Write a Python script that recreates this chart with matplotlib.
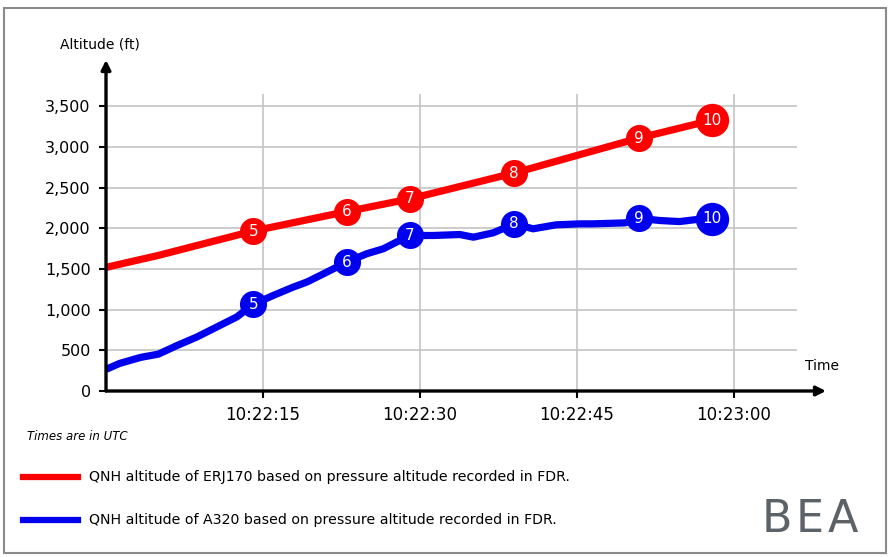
import matplotlib
matplotlib.use("Agg")
import matplotlib.pyplot as plt
from matplotlib.lines import Line2D
from matplotlib.patches import Rectangle

# time in seconds after 10:22:00 UTC, altitude in ft
red_t = [0, 5, 14.07, 23, 29, 39, 50.9, 57.9]
red_alt = [1520, 1667, 1967, 2206, 2361, 2680, 3109, 3330]

blue_t = [0, 1.3, 3.3, 5.0, 6.8, 8.7, 10.6, 12.5, 14.07, 16.0, 17.9, 19.2, 20.8, 23.0,
          24.9, 26.5, 29.0, 31.3, 33.8, 35.1, 37.0, 39.0, 40.8, 43.0, 45.3, 46.5,
          49.6, 50.9, 52.9, 54.8, 56.4, 57.9]
blue_alt = [266, 339, 413, 453, 560, 665, 788, 911, 1066, 1176, 1278, 1340, 1442, 1585,
            1687, 1749, 1912, 1912, 1924, 1891, 1945, 2055, 1994, 2043, 2055, 2055,
            2067, 2124, 2096, 2083, 2108, 2116]

pt_labels = ['5', '6', '7', '8', '9', '10']
pt_t = [14.07, 23, 29, 39, 50.9, 57.9]
red_pt_alt = [1967, 2206, 2361, 2680, 3109, 3330]
blue_pt_alt = [1066, 1585, 1912, 2055, 2124, 2116]

yticks = [0, 500, 1000, 1500, 2000, 2500, 3000, 3500]
xticks = [15, 30, 45, 60]
xtick_labels = ['10:22:15', '10:22:30', '10:22:45', '10:23:00']

RED = '#ff0000'
BLUE = '#0000ee'
LOGO = '#5b6268'

W, H = 891, 557
fig = plt.figure(figsize=(W / 100, H / 100), dpi=100)
ax = fig.add_axes([106 / W, (H - 391) / H, 720 / W, 331 / H])
ax.set_xlim(0, 720 / 10.467)
ax.set_ylim(0, 331 / 0.08134)

# grid
ax.hlines(yticks[1:], 0, 66, color='#c4c4c4', lw=1.2, zorder=1)
ax.vlines(xticks, 0, 3656, color='#c4c4c4', lw=1.2, zorder=1)

# lines
ax.plot(red_t, red_alt, color=RED, lw=5.2, solid_capstyle='butt',
        solid_joinstyle='round', zorder=3)
ax.plot(blue_t, blue_alt, color=BLUE, lw=5.2, solid_capstyle='butt',
        solid_joinstyle='round', zorder=3)

for lab, t, ra, ba in zip(pt_labels, pt_t, red_pt_alt, blue_pt_alt):
    ms = 24 if lab == '10' else 19.5
    ax.plot(t, ra, 'o', color=RED, ms=ms, mec='none', zorder=4)
    ax.plot(t, ba, 'o', color=BLUE, ms=ms, mec='none', zorder=4)
    ax.text(t, ra, lab, color='white', ha='center', va='center', fontsize=11, zorder=5)
    ax.text(t, ba, lab, color='white', ha='center', va='center', fontsize=11, zorder=5)

# axes with arrows
for s in ax.spines.values():
    s.set_visible(False)
ax.annotate('', xy=(1, 0), xytext=(0, 0), xycoords='axes fraction',
            arrowprops=dict(arrowstyle='-|>', lw=2.4, color='k', mutation_scale=14,
                            shrinkA=0, shrinkB=0), zorder=6)
ax.annotate('', xy=(0, 1), xytext=(0, 0), xycoords='axes fraction',
            arrowprops=dict(arrowstyle='-|>', lw=2.4, color='k', mutation_scale=14,
                            shrinkA=0, shrinkB=0), zorder=6)

ax.set_yticks(yticks)
ax.set_yticklabels([f'{v:,}' for v in yticks])
ax.set_xticks(xticks)
ax.set_xticklabels(xtick_labels)
ax.tick_params(axis='y', length=5, width=1.5, pad=6, labelsize=11.5)
ax.tick_params(axis='x', length=5, width=1.5, pad=6, labelsize=12)

# texts
fig.text(60 / W, 1 - 45 / H, 'Altitude (ft)', fontsize=10, va='center')
fig.text(805 / W, 1 - 366 / H, 'Time', fontsize=10, va='center')
fig.text(27 / W, 1 - 437 / H, 'Times are in UTC', fontsize=8.5, style='italic', va='center')

fig.add_artist(Line2D([23 / W, 78 / W], [1 - 477 / H, 1 - 477 / H], color=RED, lw=4.5))
fig.add_artist(Line2D([23 / W, 78 / W], [1 - 520 / H, 1 - 520 / H], color=BLUE, lw=4.5))
fig.text(89 / W, 1 - 477 / H,
         'QNH altitude of ERJ170 based on pressure altitude recorded in FDR.',
         fontsize=10.2, va='center')
fig.text(89 / W, 1 - 520 / H,
         'QNH altitude of A320 based on pressure altitude recorded in FDR.',
         fontsize=10.2, va='center')

# logo, letters spaced out like the original
for ch, x in zip('BEA', [777, 810, 843]):
    fig.text(x / W, 1 - 520 / H, ch, fontsize=32, color=LOGO, ha='center',
             va='center', family='DejaVu Sans')

fig.add_artist(Rectangle((4 / W, 4 / H), 882 / W, 545 / H, transform=fig.transFigure,
                         fill=False, edgecolor='#8a8a8a', lw=1.5))

fig.savefig('out.png', dpi=100)
